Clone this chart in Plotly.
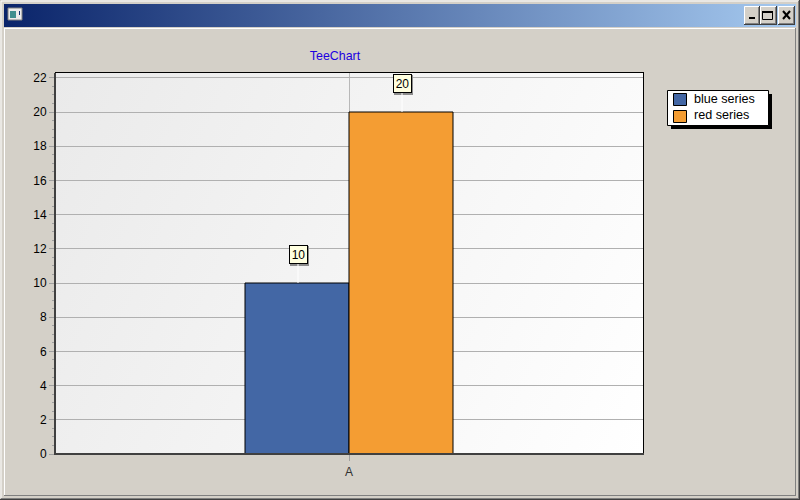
import plotly.graph_objects as go

categories = ["A"]
series_names = ["blue series", "red series"]
blue_values = [10]
red_values = [20]
colors = ["#4367a5", "#f49d33"]
title_text = "TeeChart"
y_ticks = list(range(0, 23, 2))

W, H = 800, 500
L, R, T, B = 55, 643, 73, 454
FONT = "Liberation Sans"


def fx(x):
    return (x - L) / (R - L)


def fy(y):
    return (B - y) / (B - T)


def rect(x0, y0, x1, y1, fill=None, line=None, lw=1, layer="below"):
    return dict(
        type="rect", xref="paper", yref="paper",
        x0=fx(x0), x1=fx(x1), y0=fy(y0), y1=fy(y1),
        fillcolor=fill or "rgba(0,0,0,0)",
        line=dict(color=line or "rgba(0,0,0,0)", width=lw if line else 0),
        layer=layer,
    )


def seg(x0, y0, x1, y1, color, lw=1, layer="above"):
    return dict(
        type="line", xref="paper", yref="paper",
        x0=fx(x0), x1=fx(x1), y0=fy(y0), y1=fy(y1),
        line=dict(color=color, width=lw), layer=layer,
    )


def button(x0, x1):
    y0, y1 = 6, 25
    return [
        rect(x0, y0, x1, y1, "#d4d0c8", None, 0, "above"),
        seg(x0 + 0.5, y0 + 0.5, x1 - 1, y0 + 0.5, "#ffffff"),
        seg(x0 + 0.5, y0 + 0.5, x0 + 0.5, y1 - 1, "#ffffff"),
        seg(x0, y1 - 0.5, x1, y1 - 0.5, "#404040"),
        seg(x1 - 0.5, y0, x1 - 0.5, y1, "#404040"),
        seg(x0 + 1, y1 - 1.5, x1 - 1, y1 - 1.5, "#808080"),
        seg(x1 - 1.5, y0 + 1, x1 - 1.5, y1 - 1, "#808080"),
    ]


def svg_uri(x1, y1, x2, y2, c1, c2):
    s = (
        "<svg xmlns='http://www.w3.org/2000/svg' width='100' height='100' preserveAspectRatio='none'>"
        f"<defs><linearGradient id='g' x1='{x1}' y1='{y1}' x2='{x2}' y2='{y2}'>"
        f"<stop offset='0' stop-color='{c1}'/><stop offset='1' stop-color='{c2}'/>"
        "</linearGradient></defs><rect width='100' height='100' fill='url(#g)'/></svg>"
    )
    return "data:image/svg+xml," + s.replace("<", "%3C").replace(">", "%3E").replace("#", "%23")


fig = go.Figure()
fig.add_bar(name=series_names[0], x=categories, y=blue_values,
            marker=dict(color=colors[0], line=dict(color="#000000", width=1)))
fig.add_bar(name=series_names[1], x=categories, y=red_values,
            marker=dict(color=colors[1], line=dict(color="#000000", width=1)))

shapes = [
    # window frame
    seg(1, 1, 798, 1, "#ffffff", 1, "below"),
    seg(1, 1, 1, 498, "#ffffff", 1, "below"),
    seg(0, 499.5, 800, 499.5, "#404040", 1, "below"),
    seg(799.5, 0, 799.5, 500, "#404040", 1, "below"),
    seg(1, 498.5, 799, 498.5, "#808080", 1, "below"),
    seg(798.5, 1, 798.5, 499, "#808080", 1, "below"),
    seg(4.5, 28.5, 795.5, 28.5, "#ffffff", 1, "below"),
    seg(4.5, 28, 4.5, 495, "#ffffff", 1, "below"),
    seg(4, 495.5, 796, 495.5, "#808080", 1, "below"),
    seg(795.5, 28, 795.5, 496, "#808080", 1, "below"),
    # window icon
    rect(8, 8, 22, 20, "#ececec", "#808080", 1, "above"),
    rect(10, 11, 16, 18, "#3f8f8f", None, 0, "above"),
    rect(19, 11, 20, 15, "#103070", None, 0, "above"),
    # window buttons
    *button(744, 760),
    *button(760, 777),
    *button(778, 795),
    rect(749, 17, 755, 19, "#000000", None, 0, "above"),
    rect(762.5, 11.5, 772.5, 19.5, None, "#000000", 1, "above"),
    seg(762, 12, 773, 12, "#000000", 2),
    seg(783, 11, 790, 19, "#000000", 2),
    seg(790, 11, 783, 19, "#000000", 2),
    # plot frame
    seg(L, T - 0.5, R + 1, T - 0.5, "#000000", 1),
    seg(R + 0.5, T, R + 0.5, B, "#000000", 1),
    seg(L, T, L, B + 1, "#404040", 2),
    seg(L - 1, B, R + 1, B, "#404040", 2),
    # legend
    rect(671, 94, 772, 129, "#000000", None, 0, "above"),
    rect(667.5, 90.5, 768.5, 125.5, "#ffffff", "#000000", 1, "above"),
    rect(673.5, 93.5, 686.5, 105.5, colors[0], "#000000", 1, "above"),
    rect(673.5, 110.5, 686.5, 122.5, colors[1], "#000000", 1, "above"),
]

annotations = []
for name, y_px in zip(series_names, (99, 115.5)):
    annotations.append(dict(
        xref="paper", yref="paper", x=fx(692), y=fy(y_px), text=name, showarrow=False,
        xanchor="left", yanchor="middle", font=dict(family=FONT, size=12.6, color="#000000"),
    ))

# value marks: grey pixel-sized shadow shape, white leader, pale label box
for values, shift in ((blue_values, -52), (red_values, 52)):
    v = values[0]
    shapes.append(dict(
        type="rect", xref="x", yref="y", xsizemode="pixel", ysizemode="pixel",
        xanchor=0, yanchor=v,
        x0=shift - 7, x1=shift + 12, y0=17, y1=37,
        fillcolor="#8c8c8c", line=dict(width=0), layer="above",
    ))
    annotations.append(dict(
        x=0, y=v, xref="x", yref="y", text=str(v), xshift=shift + 1,
        showarrow=True, arrowhead=0, arrowcolor="#ffffff", arrowwidth=1, ax=0, ay=-19,
        yanchor="bottom", standoff=0, width=17, height=17,
        font=dict(family=FONT, size=12, color="#000000"),
        bgcolor="#ffffe0", bordercolor="#000000", borderwidth=1, borderpad=0,
    ))

fig.update_layout(
    width=W, height=H, autosize=False,
    margin=dict(l=L, r=W - R, t=T, b=H - B, pad=0),
    paper_bgcolor="#d4d0c8",
    plot_bgcolor="rgba(0,0,0,0)",
    font=dict(family=FONT, size=12, color="#000000"),
    showlegend=False,
    barmode="group",
    bargap=1 - 208 / 588,
    bargroupgap=0,
    title=dict(text=title_text, x=335 / W, xref="container", xanchor="center",
               y=1 - 56 / H, yref="container", yanchor="middle",
               font=dict(family=FONT, size=12.4, color="#1c00e0")),
    xaxis=dict(type="category", range=[-0.5, 0.5], showgrid=True, gridcolor="#b8b8b8",
               gridwidth=1, showline=False, zeroline=False, ticks="outside", ticklen=6,
               tickcolor="#a0a0a0", tickwidth=1,
               ticklabelstandoff=1, tickfont=dict(color="#303030")),
    yaxis=dict(range=[0, (B - T) / 17.1], tickvals=y_ticks, showgrid=True, gridcolor="#b0b0b0",
               gridwidth=1, showline=False, zeroline=False, ticks="outside", ticklen=5,
               tickwidth=1, tickcolor="#a0a0a0", ticklabelstandoff=0,
               minor=dict(dtick=0.5, ticks="outside", ticklen=2, tickcolor="#a0a0a0", showgrid=False)),
    images=[
        dict(source=svg_uri(0, 0, 1, 0, "#0a246a", "#a6caf0"), xref="paper", yref="paper",
             x=fx(4), y=fy(4), sizex=792 / (R - L), sizey=23 / (B - T),
             xanchor="left", yanchor="top", sizing="stretch", layer="below"),
        dict(source=svg_uri(0, 0, 1.187, 0.335, "#eaeaea", "#ffffff"), xref="paper", yref="paper",
             x=0, y=1, sizex=1, sizey=1, xanchor="left", yanchor="top", sizing="stretch", layer="below"),
    ],
    shapes=shapes,
    annotations=annotations,
)

fig.write_html("out.html", config=dict(displayModeBar=False),
               post_script="document.body.style.margin='0';document.documentElement.style.overflow='hidden';")
